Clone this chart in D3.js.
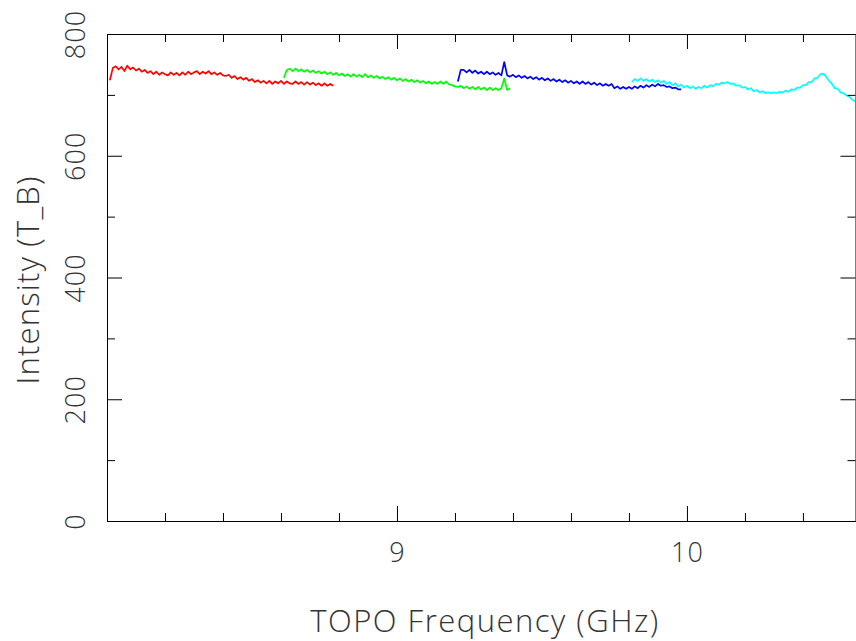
<!DOCTYPE html>
<html>
<head>
<meta charset="utf-8">
<script src="https://cdn.jsdelivr.net/npm/d3@7"></script>
<style>
  html, body { margin: 0; padding: 0; background: #fff; }
  svg { display: block; }
  text { font-family: "Open Sans", "DejaVu Sans", sans-serif; font-weight: 300; fill: #333; }
</style>
</head>
<body>
<svg id="chart" width="856" height="641"></svg>
<script>
// ---------------- data ----------------
const xTitle = "TOPO Frequency (GHz)";
const yTitle = "Intensity (T_B)";
const xDomain = [8.0, 10.583];
const yDomain = [0, 800];
const xMajorTicks = [9, 10];
const xMinorTicks = [8.2, 8.4, 8.6, 8.8, 9.2, 9.4, 9.6, 9.8, 10.2, 10.4];
const yMajorTicks = [0, 200, 400, 600, 800];
const yMinorTicks = [100, 300, 500, 700];
const channelStep = 0.01; // GHz between plotted channels

const redStart = 8.01;
const redValues = [
  724, 744, 747, 742, 746, 739, 748, 742, 745, 740,
  743, 738, 741, 736, 739, 734, 738, 733, 737, 734,
  732, 737, 733, 736, 732, 737, 733, 738, 734, 737,
  739, 734, 738, 735, 739, 734, 737, 733, 736, 732,
  731, 733, 728, 731, 726, 729, 725, 728, 723, 726,
  721, 724, 720, 723, 719, 723, 718, 722, 719, 723,
  718, 722, 719, 718, 722, 718, 721, 717, 721, 717,
  720, 716, 719, 715, 719, 715, 718, 715
];

const greenStart = 8.61;
const greenValues = [
  728, 741, 743, 739, 743, 739, 742, 738, 741, 737,
  740, 736, 739, 735, 738, 734, 737, 733, 736, 732,
  735, 731, 734, 730, 734, 730, 733, 729, 734, 729,
  732, 728, 731, 727, 730, 726, 729, 725, 728, 724,
  727, 723, 726, 722, 725, 721, 724, 720, 723, 719,
  722, 718, 721, 718, 722, 718, 722, 717, 716, 714,
  713, 715, 711, 714, 710, 713, 709, 713, 709, 712,
  708, 712, 708, 711, 708, 711, 727, 708, 711
];

const blueStart = 9.21;
const blueValues = [
  722, 741, 741, 737, 741, 736, 740, 735, 738, 734,
  738, 734, 737, 733, 736, 732, 754, 732, 730, 733,
  729, 732, 728, 731, 727, 730, 726, 729, 725, 728,
  724, 727, 723, 726, 722, 725, 721, 724, 720, 723,
  719, 722, 718, 722, 718, 721, 717, 720, 716, 719,
  715, 718, 715, 718, 711, 714, 710, 713, 710, 713,
  710, 714, 711, 715, 712, 716, 713, 717, 714, 718,
  715, 716, 713, 714, 711, 712, 709, 709
];

const cyanStart = 9.81;
const cyanValues = [
  721, 726, 723, 727, 723, 726, 722, 725, 721, 724,
  720, 723, 718, 721, 716, 719, 714, 717, 712, 715,
  711, 714, 710, 713, 711, 715, 712, 716, 714, 718,
  717, 720, 719, 721, 718, 719, 715, 716, 712, 713,
  709, 711, 706, 708, 704, 706, 703, 704, 703, 704,
  703, 705, 704, 707, 705, 709, 708, 712, 712, 716,
  716, 721, 721, 727, 728, 734, 735, 730, 723, 718,
  711, 710, 704, 703, 699, 697, 692, 690, 687
];

const seriesColors = ["#ff0000", "#00ff00", "#0000ff", "#00ffff"];
const seriesStarts = [redStart, greenStart, blueStart, cyanStart];
const seriesValues = [redValues, greenValues, blueValues, cyanValues];

// ---------------- layout ----------------
const W = 856, H = 641;
const m = { left: 107, right: 0, top: 34, bottom: 120 };
const svg = d3.select("#chart");

const x = d3.scaleLinear().domain(xDomain).range([m.left, W - m.right]);
const y = d3.scaleLinear().domain(yDomain).range([H - m.bottom, m.top]);
const x0 = m.left, x1 = W - m.right - 0.5, y0 = H - m.bottom, y1 = m.top;

const majorLen = 15, minorLen = 8;

svg.append("defs").append("clipPath").attr("id", "clip")
  .append("rect").attr("x", x0).attr("y", y1).attr("width", x1 - x0).attr("height", y0 - y1);

// data lines
const plot = svg.append("g").attr("clip-path", "url(#clip)");
seriesValues.forEach((vals, k) => {
  const start = seriesStarts[k];
  const line = d3.line()
    .x((d, i) => x(start + i * channelStep))
    .y(d => y(d));
  plot.append("path")
    .datum(vals)
    .attr("fill", "none")
    .attr("stroke", seriesColors[k])
    .attr("stroke-width", 1.7)
    .attr("stroke-linejoin", "round")
    .attr("d", line);
});

// axes
function styleAxis(g) {
  g.select(".domain").attr("stroke", "#000").attr("stroke-width", 1);
  g.selectAll(".tick line").attr("stroke", "#000").attr("stroke-width", 1);
}
// bottom
svg.append("g").attr("transform", `translate(0,${y0})`)
  .call(d3.axisBottom(x).tickValues(xMajorTicks).tickSizeInner(-majorLen).tickSizeOuter(0)
    .tickPadding(22).tickFormat(d3.format("d")))
  .call(styleAxis)
  .call(g => g.selectAll("text").attr("font-size", 27).attr("fill", "#333").attr("letter-spacing", 1));
svg.append("g").attr("transform", `translate(0,${y0})`)
  .call(d3.axisBottom(x).tickValues(xMinorTicks).tickSizeInner(-minorLen).tickSizeOuter(0).tickFormat(""))
  .call(styleAxis).call(g => g.select(".domain").remove());
// top
svg.append("g").attr("transform", `translate(0,${y1})`)
  .call(d3.axisTop(x).tickValues(xMajorTicks).tickSizeInner(-majorLen).tickSizeOuter(0).tickFormat(""))
  .call(styleAxis);
svg.append("g").attr("transform", `translate(0,${y1})`)
  .call(d3.axisTop(x).tickValues(xMinorTicks).tickSizeInner(-minorLen).tickSizeOuter(0).tickFormat(""))
  .call(styleAxis).call(g => g.select(".domain").remove());
// left
svg.append("g").attr("transform", `translate(${x0},0)`)
  .call(d3.axisLeft(y).tickValues(yMajorTicks).tickSizeInner(-majorLen).tickSizeOuter(0).tickFormat(d3.format("d")))
  .call(styleAxis)
  .call(g => g.selectAll("text")
    .attr("font-size", 27).attr("fill", "#333").attr("letter-spacing", 1)
    .attr("text-anchor", "middle")
    .attr("x", 0).attr("y", -22).attr("dy", null)
    .attr("transform", "rotate(-90)"));
svg.append("g").attr("transform", `translate(${x0},0)`)
  .call(d3.axisLeft(y).tickValues(yMinorTicks).tickSizeInner(-minorLen).tickSizeOuter(0).tickFormat(""))
  .call(styleAxis).call(g => g.select(".domain").remove());
// right
svg.append("g").attr("transform", `translate(${x1},0)`)
  .call(d3.axisRight(y).tickValues(yMajorTicks).tickSizeInner(-majorLen).tickSizeOuter(0).tickFormat(""))
  .call(styleAxis);
svg.append("g").attr("transform", `translate(${x1},0)`)
  .call(d3.axisRight(y).tickValues(yMinorTicks).tickSizeInner(-minorLen).tickSizeOuter(0).tickFormat(""))
  .call(styleAxis).call(g => g.select(".domain").remove());

// titles
svg.append("text")
  .attr("x", 485).attr("y", 632)
  .attr("text-anchor", "middle").attr("font-size", 31).attr("letter-spacing", 1.5)
  .text(xTitle);
svg.append("text")
  .attr("transform", `translate(39,280) rotate(-90)`)
  .attr("text-anchor", "middle").attr("font-size", 31).attr("letter-spacing", 1.2)
  .text(yTitle);
</script>
</body>
</html>
